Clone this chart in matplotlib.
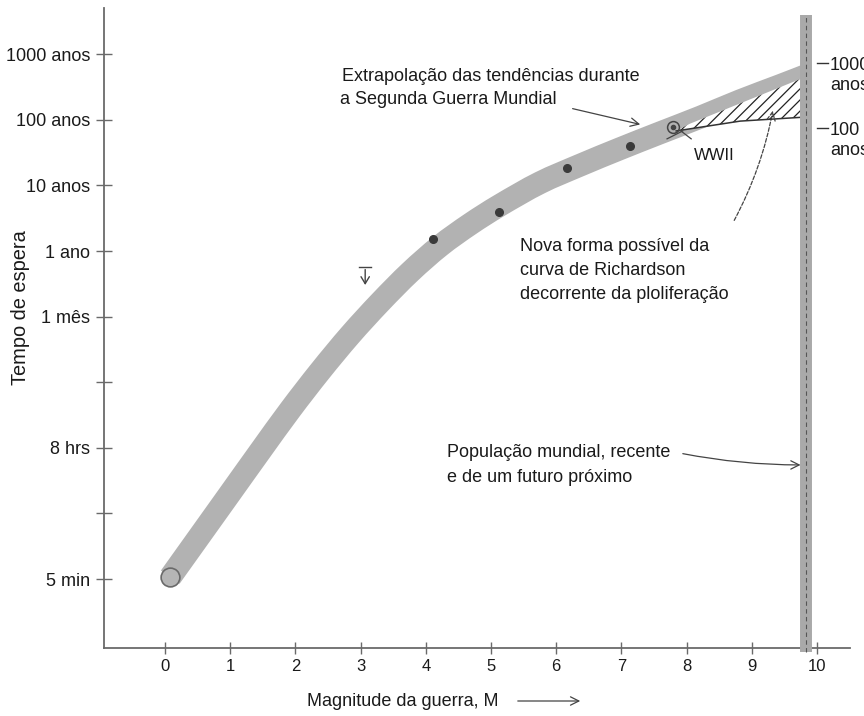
import numpy as np
import matplotlib
matplotlib.use("Agg")
import matplotlib.pyplot as plt
from matplotlib.patches import Polygon, FancyArrowPatch, PathPatch
from matplotlib.path import Path

plt.rcParams['font.family'] = ['Liberation Sans', 'DejaVu Sans']
plt.rcParams['hatch.linewidth'] = 0.9

# Richardson's curve: war magnitude M (log10 deaths) vs log10 of waiting time in years
band_m = [0.08, 0.54, 1.00, 1.46, 1.92, 2.38, 2.84, 3.30, 3.76, 4.22,
          4.68, 5.14, 5.75, 6.37, 6.98, 7.59, 8.21, 8.82, 9.43, 9.82]
band_y = [-4.97, -4.33, -3.69, -3.05, -2.42, -1.83, -1.28, -0.78, -0.32, 0.08,
          0.41, 0.70, 1.04, 1.31, 1.56, 1.80, 2.04, 2.29, 2.52, 2.67]

# observed classes of wars
war_m = [4.11, 5.12, 6.17, 7.13]
war_y = [0.18, 0.60, 1.27, 1.60]
wwii_m, wwii_y = 7.79, 1.89
start_m, start_y = 0.08, -4.97

# upper-limit marker
limit_m, limit_top, limit_bottom = 3.07, -0.24, -0.56

# world population (log10)
world_pop_m = 9.83
world_pop_y = [-6.11, 3.60]

# possible new shape of the curve due to proliferation
new_curve_m = [7.84, 8.82, 9.79]
new_curve_y = [1.83, 1.98, 2.04]
new_top_m = [9.79, 8.05]
new_top_y = [2.64, 1.94]

y_ticks = [-5, -4, -3, -2, -1, 0, 1, 2, 3]
y_labels = ['5 min', '', '8 hrs', '', '1 mês', '1 ano', '10 anos', '100 anos', '1000 anos']
x_ticks = list(range(11))

FS = 13
INK = '#1a1a1a'
AX = '#6a6a6a'
ARROW = '#444444'


def smooth_path(xs, ys):
    """Catmull-Rom curve through the points, as cubic Bezier segments."""
    p = np.column_stack([xs, ys])
    n = len(p)
    verts, codes = [p[0]], [Path.MOVETO]
    for i in range(n - 1):
        p0 = p[i - 1] if i > 0 else p[i]
        p1, p2 = p[i], p[i + 1]
        p3 = p[i + 2] if i + 2 < n else p[i + 1]
        verts += [p1 + (p2 - p0) / 6, p2 - (p3 - p1) / 6, p2]
        codes += [Path.CURVE4] * 3
    return Path(verts, codes)


fig = plt.figure(figsize=(8.64, 7.16), dpi=100)
ax = fig.add_axes([104 / 864, (716 - 648) / 716, (850 - 104) / 864, (648 - 8) / 716])
ax.set_xlim(-0.936, 10.506)
ax.set_ylim(-6.05, 3.704)

for s in ['top', 'right']:
    ax.spines[s].set_visible(False)
for s in ['left', 'bottom']:
    ax.spines[s].set_color(AX)
    ax.spines[s].set_linewidth(1.3)

ax.set_xticks(x_ticks)
ax.set_xticklabels([str(t) for t in x_ticks])
ax.set_yticks(y_ticks)
ax.set_yticklabels(y_labels)
ax.tick_params(axis='x', direction='inout', length=8, width=1, color=AX,
               pad=4, labelsize=FS - 1, labelcolor=INK)
ax.tick_params(axis='y', direction='inout', length=12, width=1, color=AX,
               pad=4, labelsize=FS, labelcolor=INK)

# main band
ax.add_patch(PathPatch(smooth_path(band_m, band_y), facecolor='none',
                       edgecolor='#b2b2b2', lw=16.5, capstyle='butt',
                       joinstyle='round', zorder=2))

# hatched region
poly_m = new_curve_m + new_top_m
poly_y = new_curve_y + new_top_y
ax.add_patch(Polygon(list(zip(poly_m, poly_y)), closed=True, facecolor='white',
                     edgecolor='#222222', hatch='///', lw=0, zorder=3))
ax.plot(new_curve_m, new_curve_y, color='#333333', lw=1.1, zorder=3.5)

# world population band
ax.plot([world_pop_m, world_pop_m], world_pop_y, color='#a9a9a9', lw=8.6,
        solid_capstyle='butt', zorder=4, clip_on=False)
ax.plot([world_pop_m, world_pop_m], world_pop_y, color='#555555', lw=0.8,
        ls=(0, (4, 3)), zorder=4.5, clip_on=False)

# data points
ax.plot(war_m, war_y, 'o', color='#3a3a3a', ms=5.5, zorder=5)
ax.plot([start_m], [start_y], 'o', ms=13.5, markerfacecolor='#b5b5b5',
        markeredgecolor='#6a6a6a', mew=1.2, zorder=5)
ax.plot([wwii_m], [wwii_y], 'o', ms=8.5, markerfacecolor='none',
        markeredgecolor=ARROW, mew=1.1, zorder=5)
ax.plot([wwii_m], [wwii_y], 'o', ms=3, color=ARROW, zorder=5)
ax.plot([7.70, 7.94], [1.71, 1.83], color=ARROW, lw=0.9, zorder=5)
ax.plot([7.90, 8.07], [1.84, 1.71], color=ARROW, lw=0.9, zorder=5)

# upper-limit marker
ax.plot([limit_m - 0.09, limit_m + 0.09], [limit_top, limit_top], color=ARROW, lw=1)
ax.annotate('', xy=(limit_m, limit_bottom), xytext=(limit_m, limit_top),
            arrowprops=dict(arrowstyle='->,head_length=0.5,head_width=0.3',
                            color=ARROW, lw=1))

head = '->,head_length=0.6,head_width=0.3'

# annotations
ax.text(2.715, 2.59, 'Extrapolação das tendências durante', fontsize=FS, color=INK)
ax.text(2.684, 2.24, 'a Segunda Guerra Mundial', fontsize=FS, color=INK)
ax.annotate('', xy=(7.33, 1.92), xytext=(6.21, 2.18),
            arrowprops=dict(arrowstyle=head, color=ARROW, lw=0.9))

ax.text(8.42, 1.387, 'WWII', fontsize=FS - 1, color=INK, ha='center')

ax.text(5.445, 0.0, 'Nova forma possível da', fontsize=FS, color=INK)
ax.text(5.445, -0.366, 'curva de Richardson', fontsize=FS, color=INK)
ax.text(5.445, -0.732, 'decorrente da ploliferação', fontsize=FS, color=INK)
ax.annotate('', xy=(9.33, 2.18), xytext=(8.71, 0.43),
            arrowprops=dict(arrowstyle=head, color=ARROW, lw=0.9, ls=(0, (3, 1.5)),
                            connectionstyle='arc3,rad=0.08'))

ax.text(4.33, -3.14, 'População mundial, recente', fontsize=FS, color=INK)
ax.text(4.33, -3.52, 'e de um futuro próximo', fontsize=FS, color=INK)
ax.annotate('', xy=(9.79, -3.26), xytext=(7.90, -3.08),
            arrowprops=dict(arrowstyle=head, color=ARROW, lw=0.9,
                            connectionstyle='arc3,rad=0.05'))

# right-hand scale marks
for yv, lab, yl in [(2.866, '1000', 2.76), (1.875, '100', 1.768)]:
    ax.plot([10.0, 10.17], [yv, yv], color='#333333', lw=1, clip_on=False)
    ax.text(10.2, yl, lab, fontsize=FS, color=INK, clip_on=False)
ax.text(10.2, 2.454, 'anos', fontsize=FS, color=INK, clip_on=False)
ax.text(10.2, 1.463, 'anos', fontsize=FS, color=INK, clip_on=False)

# axis titles
fig.text(21 / 864, 1 - 308 / 716, 'Tempo de espera', rotation=90, ha='center',
         va='center', fontsize=14.4, color=INK)
fig.text(307 / 864, 1 - 706 / 716, 'Magnitude da guerra, M', fontsize=FS,
         color=INK, va='baseline')
fig.add_artist(FancyArrowPatch(
    (515 / 864, 1 - 701 / 716), (583 / 864, 1 - 701 / 716),
    transform=fig.transFigure, arrowstyle=head, mutation_scale=10,
    color=ARROW, lw=0.9))

fig.savefig('out.png', dpi=100, facecolor='white')
